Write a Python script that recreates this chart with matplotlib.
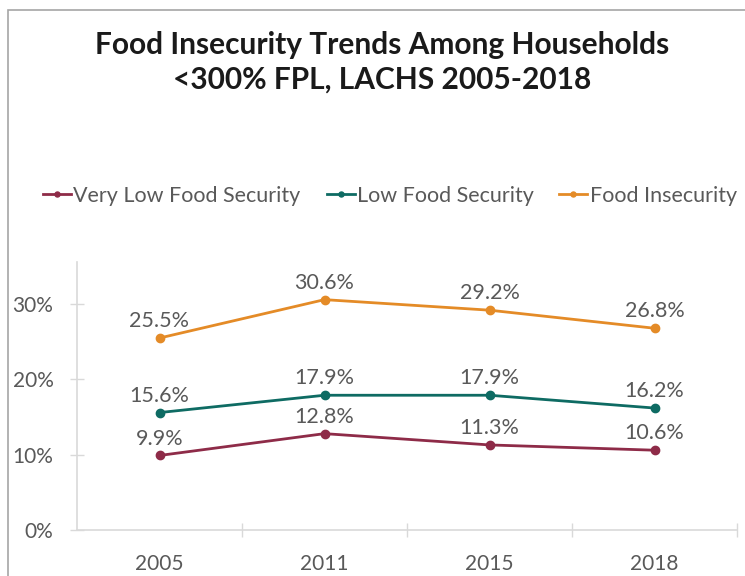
import matplotlib
matplotlib.use("Agg")
import matplotlib.pyplot as plt
from matplotlib.patches import Rectangle
from matplotlib.ticker import FuncFormatter

years = ["2005", "2011", "2015", "2018"]
very_low = [9.9, 12.8, 11.3, 10.6]
low = [15.6, 17.9, 17.9, 16.2]
insecurity = [25.5, 30.6, 29.2, 26.8]

series = [
    ("Very Low Food Security", very_low, "#8E2B48"),
    ("Low Food Security", low, "#0E6B63"),
    ("Food Insecurity", insecurity, "#E48B27"),
]

plt.rcParams["font.family"] = ["Lato", "DejaVu Sans"]
text_gray = "#595959"
axis_gray = "#D9D9D9"

fig = plt.figure(figsize=(7.45, 5.76), dpi=100)
W, H = 745, 576
ax = fig.add_axes([77 / W, 1 - 530 / H, (737 - 77) / W, (530 - 262) / H])

# chart frame (cropped on right/bottom)
fig.patches.append(Rectangle((8 / W, -0.1), 1.2, 1 - 10 / H + 0.1,
                             transform=fig.transFigure, fill=False,
                             edgecolor="#A6A6A6", linewidth=1.2))

x = list(range(len(years)))
for name, vals, color in series:
    ax.plot(x, vals, color=color, linewidth=2, marker="o", markersize=6, label=name)
    for xi, v in zip(x, vals):
        ax.annotate(f"{v:.1f}%", (xi, v), xytext=(0, 5), textcoords="offset points",
                    ha="center", va="bottom", fontsize=15.5, color=text_gray)

ax.set_xlim(-0.5, len(years) - 0.5)
ax.set_ylim(0, 35.6)
ax.set_yticks([0, 10, 20, 30])
ax.yaxis.set_major_formatter(FuncFormatter(lambda v, p: f"{v:.0f}%"))
ax.set_xticks(x)
ax.set_xticklabels(years)
ax.set_xticks([0.5, 1.5, 2.5, 3.5], minor=True)

for s in ["top", "right"]:
    ax.spines[s].set_visible(False)
for s in ["left", "bottom"]:
    ax.spines[s].set_color(axis_gray)
    ax.spines[s].set_linewidth(1.2)

ax.tick_params(axis="y", which="major", direction="inout", length=10, width=1,
               color=axis_gray, labelsize=15, labelcolor=text_gray, pad=12)
ax.tick_params(axis="x", which="major", length=0, labelsize=15,
               labelcolor=text_gray, pad=17)
ax.tick_params(axis="x", which="minor", direction="inout", length=10, width=1,
               color=axis_gray)

fig.text(382 / W, 1 - 45 / H, "Food Insecurity Trends Among Households",
         ha="center", va="center", fontsize=21.5, fontweight="bold", color="#1a1a1a")
fig.text(382 / W, 1 - 80 / H, "<300% FPL, LACHS 2005-2018",
         ha="center", va="center", fontsize=21.5, fontweight="bold", color="#1a1a1a")

fig.legend(loc="center", bbox_to_anchor=(390 / W, 1 - 196 / H), ncol=3,
           frameon=False, fontsize=15.5, labelcolor=text_gray, handlelength=1.3,
           handletextpad=0.1, columnspacing=1.2, markerscale=0.6)

fig.savefig("out.png", dpi=100)
